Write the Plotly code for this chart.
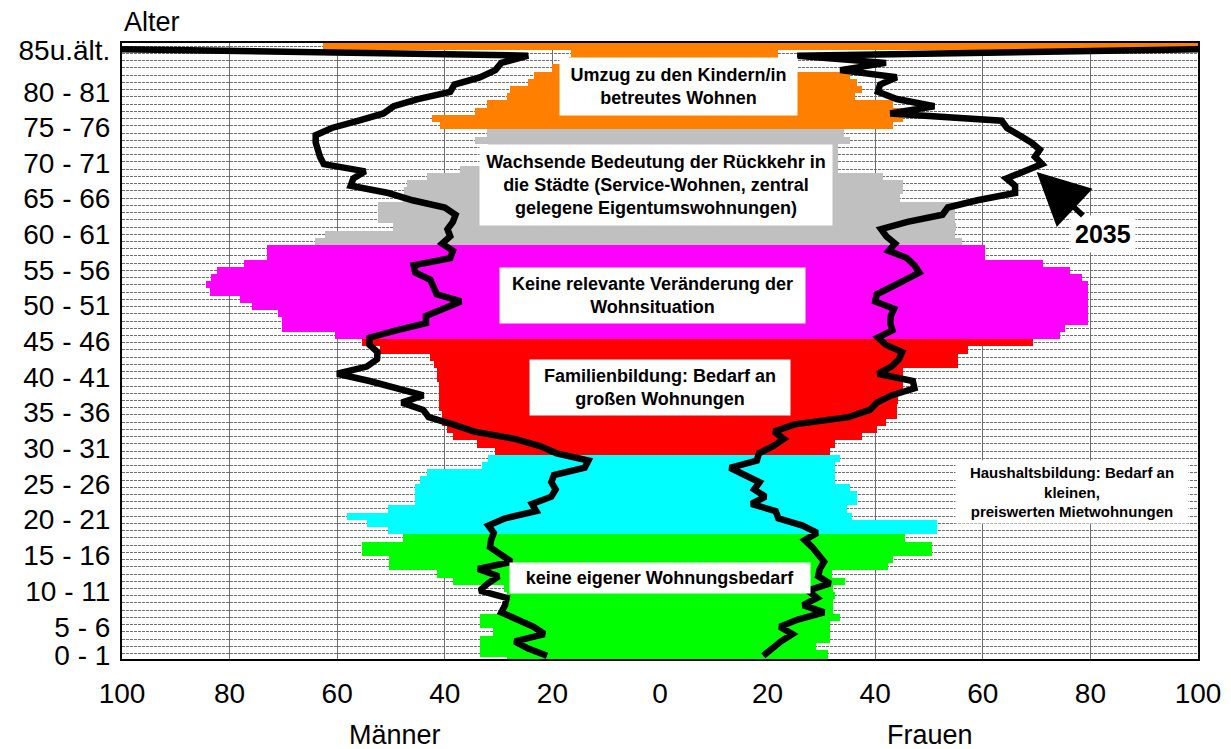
import plotly.graph_objects as go

# Altersjahre 0 .. 85 (85 = "85 und älter")
ages = list(range(86))

# Bevölkerung je Altersjahr (Balken), Männer links / Frauen rechts
men = [28.5, 33.5, 33.5, 33.5, 31, 33.5, 33.5, 29, 28.5, 28.5,
       29, 38.4, 41.4, 50.4, 50.4, 55.4, 55.4, 47.7, 50.5, 54.5,
       58.2, 50.5, 45.5, 45.5, 45.5, 44.6, 43.4, 33.1, 32, 30.6,
       34, 38.4, 39.5, 40.5, 40.5, 41, 41, 41, 41, 41.5,
       41.5, 42, 42.7, 52, 55.4, 60.4, 70.3, 70.3, 71, 75.9,
       78, 83.6, 84.3, 83.5, 82.4, 77.4, 73, 73, 64.1, 62.3,
       49.6, 52.4, 52.4, 52.4, 47.7, 47.5, 47, 43.4, 37.2, 32,
       32, 32, 34.4, 32.2, 40.9, 42.4, 34.4, 32.2, 28.5, 27.9,
       24.5, 23.5, 20, 17, 16.5, 62.6]
women = [31.3, 31.3, 29, 31.6, 31.6, 31.6, 33.5, 32.2, 32.2, 32.5,
         32.2, 34.4, 32, 42.4, 43.4, 50.5, 50.5, 45.5, 51.4, 51.4,
         35.6, 34.7, 36.6, 36.6, 35.3, 32.5, 32.5, 32.5, 33.5, 31.6,
         32.5, 37.5, 40.3, 42, 44, 44, 44.3, 44.3, 45.2, 45.2,
         45.2, 55.4, 55.4, 57.3, 69.4, 74.3, 75.3, 79.6, 79.6, 79.6,
         79.6, 79.6, 79.6, 78.4, 76.2, 71.2, 60.4, 60.4, 56.1, 54.8,
         55.1, 54.8, 54.8, 54.8, 44.6, 45.2, 45.2, 41.5, 33, 33,
         33, 33, 35.3, 34.2, 43.4, 45.2, 45.2, 43.4, 36.3, 37.5,
         36.6, 35.3, 22, 22, 22, 105]

# Linie 2035
men_2035 = [21, 24.5, 27, 21.5, 23.5, 26.5, 29.5, 28.8, 28.5, 33.5,
            32, 30, 33.8, 27.6, 29.5, 31.6, 31.4, 30.9, 31.9, 28.8,
            23, 23.8, 20.2, 19.4, 20.2, 19.7, 14, 13.3, 19.2, 22.3,
            27, 34.5, 38.5, 43, 44, 48, 44, 48.5, 54, 60,
            54.5, 52.6, 52.5, 54, 54, 49, 43.5, 43.5, 40, 37,
            41.5, 42.1, 42.7, 45.5, 45.8, 39, 38.5, 40.5, 39, 39.5,
            38.5, 38, 40, 46, 50.5, 57.5, 57, 54.8, 62.5, 63.2,
            63.6, 64, 64, 61, 56, 51.4, 49.5, 45, 39, 38.2,
            33.5, 30.6, 29.5, 24.5, 110, 110]
women_2035 = [19.2, 20.8, 22.5, 24.6, 22.3, 25.6, 30.5, 26.6, 29.2, 27.5,
              31.6, 29.4, 29.7, 30.5, 29.5, 28.3, 26.9, 29.2, 26.5, 22,
              21.5, 17, 19.6, 17.5, 18.5, 16, 13, 18, 18.4, 21,
              23, 21.2, 25, 35, 39, 40.3, 43, 47.3, 47, 40.5,
              43, 44.4, 45, 42, 40.5, 43.2, 42.8, 42.9, 43.5, 40,
              40.3, 43, 45.6, 48.2, 47.3, 45.9, 42.5, 43.7, 42.1, 41.1,
              46, 52.5, 53.5, 59, 66, 66, 64.4, 67.5, 71, 69.7,
              70.6, 69, 67, 64.5, 63.5, 42.8, 51, 44, 40.5, 40.9,
              44, 33.5, 42, 25.5, 110, 110]

# Lebensphasen (Farbbänder)
band_starts = [0, 18, 29, 45, 58, 74]
band_colors = ["#00ff00", "#00ffff", "#ff0000", "#ff00ff", "#c0c0c0", "#ff8000"]

# Achsenbeschriftungen
y_labels = ["0 - 1", "5 - 6", "10 - 11", "15 - 16", "20 - 21", "25 - 26",
            "30 - 31", "35 - 36", "40 - 41", "45 - 46", "50 - 51", "55 - 56",
            "60 - 61", "65 - 66", "70 - 71", "75 - 76", "80 - 81", "85u.ält."]
y_label_pos = [0.8, 4.7, 9.65, 14.6, 19.6, 24.45, 29.4, 34.4, 39.25, 44.2,
               49.2, 54.05, 59.05, 64.0, 68.85, 73.8, 78.7, 84.5]
x_ticks = [-100, -80, -60, -40, -20, 0, 20, 40, 60, 80, 100]

FONT = "Liberation Sans, Arial, sans-serif"
LINE_SHIFT = 0.7


def band_color(age):
    col = band_colors[0]
    for start, c in zip(band_starts, band_colors):
        if age >= start:
            col = c
    return col


colors = [band_color(a) for a in ages]

fig = go.Figure()

fig.add_trace(go.Bar(
    y=ages, x=[-v for v in men], orientation="h", width=1,
    marker=dict(color=colors, line=dict(width=0)), name="Männer"))
fig.add_trace(go.Bar(
    y=ages, x=women, orientation="h", width=1,
    marker=dict(color=colors, line=dict(width=0)), name="Frauen"))

line_y = [a + LINE_SHIFT for a in ages]
fig.add_trace(go.Scatter(
    x=[-v for v in men_2035], y=line_y, mode="lines",
    line=dict(color="black", width=6.5), name="2035 Männer"))
fig.add_trace(go.Scatter(
    x=women_2035, y=line_y, mode="lines",
    line=dict(color="black", width=6.5), name="2035 Frauen"))

# Textkästen
boxes = [
    ("Umzug zu den Kindern/in<br>betreutes Wohnen", 3.4, 79.4, 237, 57, 18),
    ("Wachsende Bedeutung der Rückkehr in<br>die Städte (Service-Wohnen, zentral<br>"
     "gelegene Eigentumswohnungen)", -0.7, 65.8, 352, 80, 18),
    ("Keine relevante Veränderung der<br>Wohnsituation", -1.4, 50.5, 305, 55, 18),
    ("Familienbildung: Bedarf an<br>großen Wohnungen", 0, 37.8, 260, 55, 18),
    ("Haushaltsbildung: Bedarf an<br>kleinen,<br>preiswerten Mietwohnungen", 76.6, 23.3, 232, 62, 15),
    ("keine eigener Wohnungsbedarf", 0, 11.45, 300, 30, 18),
]
for text, bx, by, w, h, fs in boxes:
    fig.add_annotation(
        x=bx, y=by, xref="x", yref="y", text="<b>" + text + "</b>",
        showarrow=False, bgcolor="white", width=w, height=h, borderpad=0,
        align="center", valign="middle", xanchor="center", yanchor="middle",
        font=dict(family=FONT, size=fs, color="black"))

# Pfeil 2035
fig.add_annotation(
    x=70, y=67.6, xref="x", yref="y", text="<b>2035</b>",
    showarrow=True, ax=66, ay=62, arrowhead=2, arrowsize=1.9, arrowwidth=5.5,
    arrowcolor="black", standoff=0, bgcolor="white", borderpad=4,
    font=dict(family=FONT, size=25, color="black"))

# Achsentitel
for text, px, py in [("Alter", 0.028, 1.034), ("Männer", 0.254, -0.124), ("Frauen", 0.751, -0.124)]:
    fig.add_annotation(x=px, y=py, xref="paper", yref="paper", text=text,
                       showarrow=False, xanchor="center", yanchor="middle",
                       font=dict(family=FONT, size=27, color="black"))

fig.update_layout(
    width=1223, height=741,
    margin=dict(l=114, r=33, t=35, b=90),
    paper_bgcolor="white", plot_bgcolor="white",
    barmode="overlay", bargap=0, showlegend=False,
    font=dict(family=FONT, size=28, color="black"),
)

fig.update_xaxes(
    range=[-100, 100], tickvals=x_ticks, ticktext=[str(abs(v)) for v in x_ticks],
    showgrid=True, gridcolor="#707070", gridwidth=1,
    zeroline=True, zerolinecolor="black", zerolinewidth=1.5,
    showline=True, linecolor="black", linewidth=2, mirror=True,
    automargin=False, ticks="", ticklabelstandoff=8, tickfont=dict(size=28))

fig.update_yaxes(
    range=[0.25, 85.45], tickmode="array", tickvals=y_label_pos, ticktext=y_labels,
    showgrid=False, zeroline=False,
    showline=True, linecolor="black", linewidth=2, mirror=True,
    automargin=False, ticks="", ticklabelstandoff=4, tickfont=dict(size=28),
    minor=dict(tickmode="linear", tick0=0, dtick=1, showgrid=True,
               gridcolor="#6e6e6e", gridwidth=1, griddash="3px,1px", ticks=""))

fig.write_html("out.html")
